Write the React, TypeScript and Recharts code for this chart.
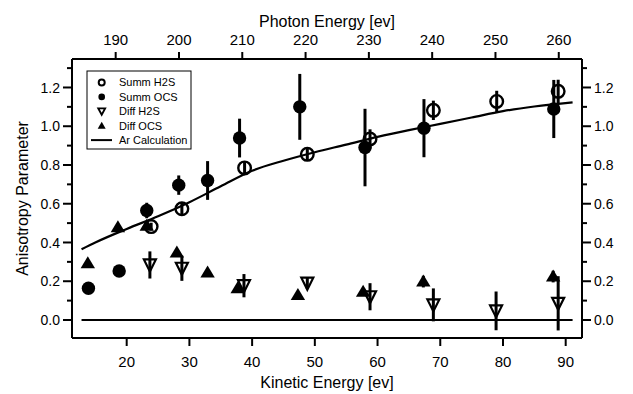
import {
  ComposedChart, Scatter, Line, XAxis, YAxis, ErrorBar, ReferenceLine, Customized,
} from "recharts";

const FONT = '"Liberation Sans", Arial, Helvetica, sans-serif';

// Summ H2S (open circles)
const summH2SKe = [23.9, 28.8, 38.8, 48.8, 58.8, 68.9, 79.0, 88.8];
const summH2SB = [0.482, 0.574, 0.785, 0.855, 0.934, 1.082, 1.128, 1.18];
const summH2SErr = [0.02, 0.03, 0.03, 0.03, 0.05, 0.05, 0.055, 0.06];

// Summ OCS (filled circles)
const summOCSKe = [13.9, 18.8, 23.2, 28.3, 32.9, 38.0, 47.6, 58.0, 67.4, 88.1];
const summOCSB = [0.164, 0.253, 0.565, 0.696, 0.72, 0.939, 1.10, 0.89, 0.99, 1.089];
const summOCSErr = [0, 0, 0.04, 0.05, 0.1, 0.1, 0.17, 0.2, 0.15, 0.15];

// Diff H2S (open triangles down)
const diffH2SKe = [23.7, 28.8, 38.7, 48.8, 58.8, 68.9, 78.9, 88.8];
const diffH2SB = [0.284, 0.267, 0.177, 0.19, 0.12, 0.078, 0.047, 0.086];
const diffH2SErr = [0.07, 0.065, 0.06, 0.03, 0.07, 0.085, 0.1, 0.14];

// Diff OCS (filled triangles up)
const diffOCSKe = [13.8, 18.6, 23.2, 28.0, 32.9, 37.7, 47.3, 57.7, 67.3, 88.0];
const diffOCSB = [0.293, 0.479, 0.486, 0.348, 0.245, 0.164, 0.129, 0.146, 0.198, 0.224];
const diffOCSErr = [0, 0, 0, 0, 0, 0, 0, 0, 0.03, 0.03];

// Ar calculation (solid curve)
const arKe = [12.8, 15, 20, 25, 30, 35, 40, 45, 50, 55, 60, 65, 70, 75, 80, 85, 91.1];
const arB = [0.365, 0.40, 0.47, 0.535, 0.608, 0.69, 0.77, 0.822, 0.866, 0.905, 0.945, 0.98, 1.012, 1.045, 1.078, 1.102, 1.123];

const kineticTicks = [20, 30, 40, 50, 60, 70, 80, 90];
const photonTicks = [190, 200, 210, 220, 230, 240, 250, 260];
const yTicks = [0, 0.1, 0.2, 0.3, 0.4, 0.5, 0.6, 0.7, 0.8, 0.9, 1.0, 1.1, 1.2, 1.3];

const legendLabels = ["Summ H2S", "Summ OCS", "Diff H2S", "Diff OCS", "Ar Calculation"];

const rows = (ke: number[], b: number[], err?: number[]) =>
  ke.map((k, i) => ({ ke: k, b: b[i], err: err ? err[i] : 0 }));

const summH2S = rows(summH2SKe, summH2SB, summH2SErr);
const summOCS = rows(summOCSKe, summOCSB, summOCSErr);
const diffH2S = rows(diffH2SKe, diffH2SB, diffH2SErr);
const diffOCS = rows(diffOCSKe, diffOCSB, diffOCSErr);
const arCalc = rows(arKe, arB);
// empty series that only hooks the photon-energy axis onto the chart
const photonAxisRows = photonTicks.map((pe) => ({ pe, b: null }));

const OpenCircle = (p: any) => (
  <circle cx={p.cx} cy={p.cy} r={6.3} fill="none" stroke="#000" strokeWidth={2.4} />
);
const FilledCircle = (p: any) => <circle cx={p.cx} cy={p.cy} r={6.7} fill="#000" />;
const TriDown = (p: any) => {
  const { cx, cy } = p;
  return (
    <polygon
      points={`${cx - 6},${cy - 5.5} ${cx + 6},${cy - 5.5} ${cx},${cy + 6.5}`}
      fill="none" stroke="#000" strokeWidth={2.2}
    />
  );
};
const TriUp = (p: any) => {
  const { cx, cy } = p;
  return <polygon points={`${cx - 7.2},${cy + 5} ${cx + 7.2},${cy + 5} ${cx},${cy - 7}`} fill="#000" />;
};

function YTick(props: any) {
  const { x, y, payload, side } = props;
  const v = payload.value as number;
  const major = Math.round(v * 10) % 2 === 0 && v < 1.25;
  const dir = side === "left" ? -1 : 1;
  const len = major ? 9 : 5;
  return (
    <g>
      <line x1={x} x2={x + dir * len} y1={y} y2={y} stroke="#000" strokeWidth={2} />
      {major && (
        <text
          x={x + dir * 12} y={y} dy="0.36em"
          textAnchor={side === "left" ? "end" : "start"}
          fontSize={14} fontFamily={FONT} fill="#000"
        >
          {v.toFixed(1)}
        </text>
      )}
    </g>
  );
}

function LegendBox() {
  const rowY = (i: number) => 82.5 + i * 14.4;
  const sx = 101.7;
  return (
    <g>
      <rect x={87} y={71} width={104} height={78} fill="#fff" stroke="#000" strokeWidth={1} />
      <circle cx={sx} cy={rowY(0)} r={3} fill="none" stroke="#000" strokeWidth={2} />
      <circle cx={sx} cy={rowY(1)} r={3.3} fill="#000" />
      <polygon points={`${sx - 3.5},${rowY(2) - 3} ${sx + 3.5},${rowY(2) - 3} ${sx},${rowY(2) + 3.5}`} fill="none" stroke="#000" strokeWidth={1.8} />
      <polygon points={`${sx - 4},${rowY(3) + 3} ${sx + 4},${rowY(3) + 3} ${sx},${rowY(3) - 4}`} fill="#000" />
      <line x1={91} x2={112} y1={rowY(4)} y2={rowY(4)} stroke="#000" strokeWidth={2} />
      {legendLabels.map((t, i) => (
        <text key={t} x={119} y={rowY(i)} dy="0.36em" fontSize={11} fontFamily={FONT} fill="#000">
          {t}
        </text>
      ))}
    </g>
  );
}

const axisLine = { stroke: "#000", strokeWidth: 2 };
const tickLine = { stroke: "#000", strokeWidth: 2 };
const xTick = { fill: "#000", fontSize: 15, fontFamily: FONT };
const yDomain: [number, number] = [-0.093, 1.347];

export default function App() {
  return (
    <div style={{ position: "absolute", left: 0, top: 0, background: "#fff" }}>
      <ComposedChart width={633} height={394} margin={{ top: 0, right: 0, bottom: 0, left: 0 }}>
        <XAxis
          dataKey="ke" type="number" domain={[11.28, 92.6]} allowDataOverflow
          ticks={kineticTicks} interval={0} height={56}
          axisLine={axisLine} tickLine={tickLine} tickSize={8} tickMargin={10} tick={xTick}
          label={{ value: "Kinetic Energy [ev]", position: "insideBottom", offset: 6, fill: "#000", fontSize: 16, fontFamily: FONT }}
        />
        <XAxis
          xAxisId="top" dataKey="pe" orientation="top" type="number" domain={[183.1, 263.67]} allowDataOverflow
          ticks={photonTicks} interval={0} height={59}
          axisLine={axisLine} tickLine={tickLine} tickSize={7} tickMargin={7} tick={xTick}
          label={{ value: "Photon Energy [ev]", position: "insideTop", offset: 16, fill: "#000", fontSize: 16, fontFamily: FONT }}
        />
        <YAxis
          dataKey="b" type="number" domain={yDomain} allowDataOverflow ticks={yTicks} interval={0}
          width={72} axisLine={axisLine} tickLine={false} tickSize={0} tickMargin={0}
          tick={(p: any) => <YTick {...p} side="left" />}
          label={{ value: "Anisotropy Parameter", angle: -90, position: "insideLeft", offset: 22, fill: "#000", fontSize: 16, fontFamily: FONT, style: { textAnchor: "middle" } }}
        />
        <YAxis
          yAxisId="right" orientation="right" type="number" domain={yDomain} allowDataOverflow
          ticks={yTicks} interval={0} width={51}
          axisLine={axisLine} tickLine={false} tickSize={0} tickMargin={0}
          tick={(p: any) => <YTick {...p} side="right" />}
        />
        <ReferenceLine segment={[{ x: 12.8, y: 0 }, { x: 91.1, y: 0 }]} stroke="#000" strokeWidth={2} />
        <Line
          xAxisId="top" yAxisId="right" data={photonAxisRows} dataKey="b"
          stroke="none" dot={false} activeDot={false} legendType="none" isAnimationActive={false}
        />
        <Line data={arCalc} dataKey="b" type="monotone" stroke="#000" strokeWidth={2.2} dot={false} activeDot={false} isAnimationActive={false} />
        <Scatter data={summOCS} dataKey="b" shape={FilledCircle} isAnimationActive={false}>
          <ErrorBar dataKey="err" direction="y" width={0} stroke="#000" strokeWidth={3} isAnimationActive={false} />
        </Scatter>
        <Scatter data={summH2S} dataKey="b" shape={OpenCircle} isAnimationActive={false}>
          <ErrorBar dataKey="err" direction="y" width={0} stroke="#000" strokeWidth={3} isAnimationActive={false} />
        </Scatter>
        <Scatter data={diffOCS} dataKey="b" shape={TriUp} isAnimationActive={false}>
          <ErrorBar dataKey="err" direction="y" width={0} stroke="#000" strokeWidth={3} isAnimationActive={false} />
        </Scatter>
        <Scatter data={diffH2S} dataKey="b" shape={TriDown} isAnimationActive={false}>
          <ErrorBar dataKey="err" direction="y" width={0} stroke="#000" strokeWidth={3} isAnimationActive={false} />
        </Scatter>
        <Customized component={<LegendBox />} />
      </ComposedChart>
    </div>
  );
}
